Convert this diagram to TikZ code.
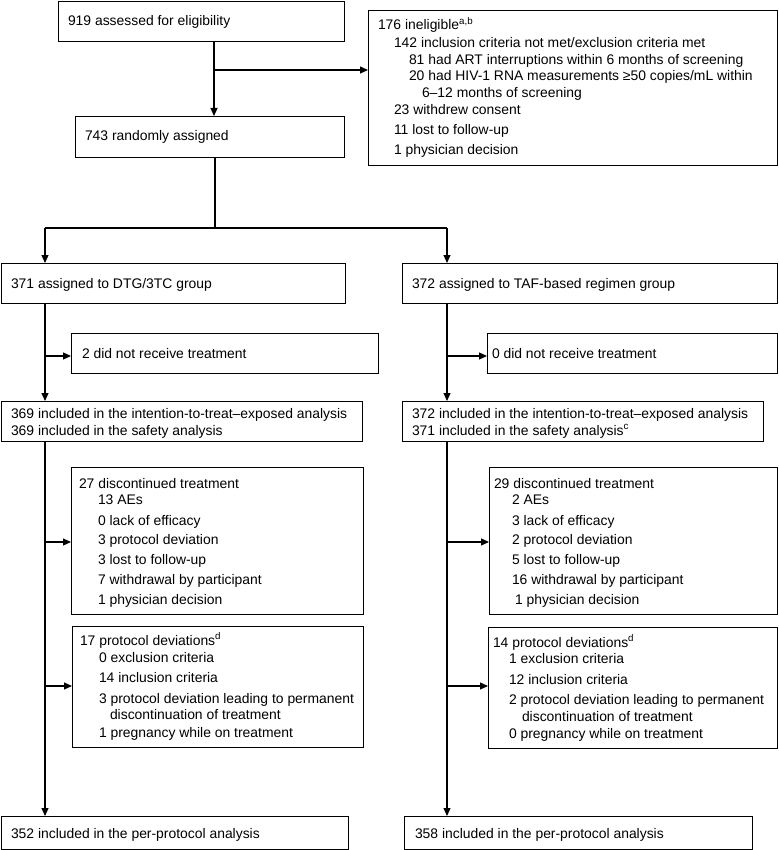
\documentclass[tikz,border=0pt]{standalone}
\usepackage{fontspec}
\setmainfont{Liberation Sans}
\usetikzlibrary{arrows.meta}
\tikzset{
  box/.style={draw=black, line width=1.2pt, rectangle, inner sep=0pt},
  txt/.style={inner sep=0pt, outer sep=0pt, text=black, font=\fontsize{13.9}{17}\selectfont},
  conn/.style={draw=black, line width=1.1pt},
  arr/.style={conn, -{Triangle[length=8pt,width=7pt]}},
}
\newcommand\bx[5]{\node[box,anchor=north west,minimum width={(#4)-(#2)},minimum height={(#5)-(#3)}] (#1) at (#2,#3) {};}
\newcommand\tx[4]{\node[txt,anchor=base west] (#1) at (#2,#3+5) {#4};}
\begin{document}
\begin{tikzpicture}[x=1pt,y=-1pt]
\useasboundingbox (0,0) rectangle (778,850);
% boxes
\bx{A}{58}{1}{344}{41}
\bx{B}{368}{10}{777}{165}
\bx{C}{75}{116}{344}{157}
\bx{D}{0.7}{263}{345}{303}
\bx{E}{402}{263}{777}{303}
\bx{F}{71}{333}{378}{373}
\bx{G}{487}{333}{777}{373}
\bx{H}{0.7}{401}{362}{441}
\bx{I}{402}{401}{763}{441}
\bx{J}{71}{467}{363}{614}
\bx{K}{489}{467}{777}{614}
\bx{L}{72}{626}{363}{747}
\bx{M}{488}{627}{777}{748}
\bx{N}{0.7}{816}{348}{849}
\bx{O}{404}{816}{752}{849}
% texts
\tx{tA}{68}{21}{919 assessed for eligibility}
\tx{tB1}{378}{25}{176 ineligible\textsuperscript{a,b}}
\tx{tB2}{394}{43}{142 inclusion criteria not met/exclusion criteria met}
\tx{tB3}{409}{60}{81 had ART interruptions within 6 months of screening}
\tx{tB4}{409}{76}{20 had HIV-1 RNA measurements ≥50 copies/mL within}
\tx{tB5}{422}{93}{6–12 months of screening}
\tx{tB6}{394}{110}{23 withdrew consent}
\tx{tB7}{394}{130}{11 lost to follow-up}
\tx{tB8}{394}{150}{1 physician decision}
\tx{tC}{85}{136}{743 randomly assigned}
\tx{tD}{11}{283}{371 assigned to DTG/3TC group}
\tx{tE}{412}{283}{372 assigned to TAF-based regimen group}
\tx{tF}{82}{353}{2 did not receive treatment}
\tx{tG}{492}{353}{0 did not receive treatment}
\tx{tH1}{11}{413}{369 included in the intention-to-treat–exposed analysis}
\tx{tH2}{11}{430}{369 included in the safety analysis}
\tx{tI1}{412}{413}{372 included in the intention-to-treat–exposed analysis}
\tx{tI2}{412}{430}{371 included in the safety analysis\textsuperscript{c}}
\tx{tJ1}{79}{483}{27 discontinued treatment}
\tx{tJ2}{98}{499}{13 AEs}
\tx{tJ3}{98}{520}{0 lack of efficacy}
\tx{tJ4}{98}{539}{3 protocol deviation}
\tx{tJ5}{98}{559}{3 lost to follow-up}
\tx{tJ6}{98}{579}{7 withdrawal by participant}
\tx{tJ7}{98}{599}{1 physician decision}
\tx{tK1}{494}{483}{29 discontinued treatment}
\tx{tK2}{512}{499}{2 AEs}
\tx{tK3}{512}{520}{3 lack of efficacy}
\tx{tK4}{512}{539}{2 protocol deviation}
\tx{tK5}{512}{559}{5 lost to follow-up}
\tx{tK6}{512}{579}{16 withdrawal by participant}
\tx{tK7}{515}{599}{1 physician decision}
\tx{tL1}{80}{640}{17 protocol deviations\textsuperscript{d}}
\tx{tL2}{99}{657}{0 exclusion criteria}
\tx{tL3}{99}{677}{14 inclusion criteria}
\tx{tL4}{99}{698}{3 protocol deviation leading to permanent}
\tx{tL5}{110}{714}{discontinuation of treatment}
\tx{tL6}{99}{732}{1 pregnancy while on treatment}
\tx{tM1}{493}{642}{14 protocol deviations\textsuperscript{d}}
\tx{tM2}{509}{658}{1 exclusion criteria}
\tx{tM3}{509}{679}{12 inclusion criteria}
\tx{tM4}{509}{699}{2 protocol deviation leading to permanent}
\tx{tM5}{522}{716}{discontinuation of treatment}
\tx{tM6}{509}{733}{0 pregnancy while on treatment}
\tx{tN}{11}{833}{352 included in the per-protocol analysis}
\tx{tO}{415}{833}{358 included in the per-protocol analysis}
% junction coordinates
\coordinate (j1) at (214,70);
\coordinate (j2) at (215,228);
\coordinate (jL) at (45,228);
\coordinate (jR) at (447,228);
\coordinate (jL1) at (45,356);
\coordinate (jR1) at (447,356);
\coordinate (jL2) at (45,542);
\coordinate (jR2) at (447,542);
\coordinate (jL3) at (45,686);
\coordinate (jR3) at (447,686);
% connectors
\draw[arr] (A.south -| j1) -- (C.north -| j1);
\draw[arr] (j1) -- (B.west |- j1);
\draw[conn] (C.south -| j2) -- (j2);
\draw[conn] (jL) -- (jR);
\draw[arr] (jL) -- (D.north -| jL);
\draw[arr] (jR) -- (E.north -| jR);
\draw[arr] (D.south -| jL1) -- (H.north -| jL1);
\draw[arr] (jL1) -- (F.west |- jL1);
\draw[arr] (E.south -| jR1) -- (I.north -| jR1);
\draw[arr] (jR1) -- (G.west |- jR1);
\draw[arr] (H.south -| jL2) -- (N.north -| jL2);
\draw[arr] (jL2) -- (J.west |- jL2);
\draw[arr] (jL3) -- (L.west |- jL3);
\draw[arr] (I.south -| jR2) -- (O.north -| jR2);
\draw[arr] (jR2) -- (K.west |- jR2);
\draw[arr] (jR3) -- (M.west |- jR3);
\end{tikzpicture}
\end{document}
